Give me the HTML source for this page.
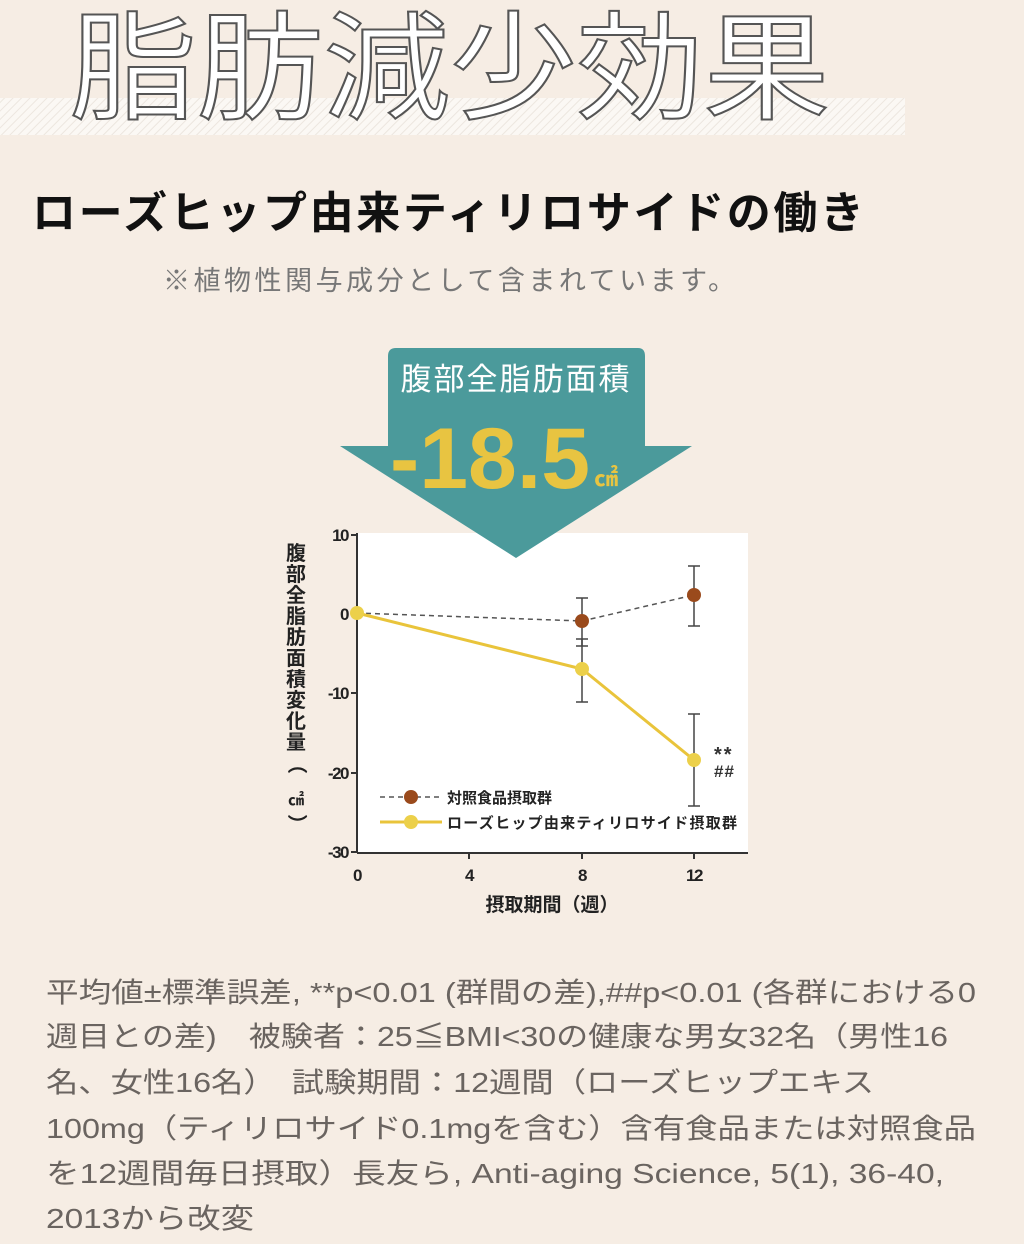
<!DOCTYPE html>
<html><head><meta charset="utf-8"><style>
html,body{margin:0;padding:0;background:#f6ede4;}
body{width:1024px;height:1244px;overflow:hidden;position:relative;}
svg{position:absolute;left:0;top:0;}
</style></head><body>
<svg width="1024" height="1244" xmlns="http://www.w3.org/2000/svg">
<defs>
<pattern id="hatch" width="6" height="6" patternUnits="userSpaceOnUse" patternTransform="rotate(45)">
<rect width="6" height="6" fill="#fbf8f4"/><line x1="0" y1="0" x2="0" y2="6" stroke="#ece6df" stroke-width="2"/>
</pattern>
</defs>
<rect x="0" y="0" width="1024" height="1244" fill="#f6ede4"/>
<rect x="0" y="98" width="905" height="37" fill="url(#hatch)"/>
<text x="70" y="110" font-family="'Noto Sans CJK JP',sans-serif" font-size="118" fill="#ffffff" stroke="#555" stroke-width="2" textLength="760" lengthAdjust="spacingAndGlyphs">脂肪減少効果</text>
<text x="32" y="228" font-family="'Noto Sans CJK JP',sans-serif" font-weight="bold" font-size="44" fill="#111" textLength="832" lengthAdjust="spacing">ローズヒップ由来ティリロサイドの働き</text>
<text x="163" y="290" font-family="'Noto Sans CJK JP',sans-serif" font-size="27" fill="#777" textLength="572" lengthAdjust="spacing">※植物性関与成分として含まれています。</text>

<rect x="357" y="533" width="391" height="319" fill="#ffffff"/>
<path d="M396,348 H638 Q645,348 645,356 V446 H692 L516,558 L340,446 H388 V356 Q388,348 396,348 Z" fill="#4b9a9b"/>
<text x="516" y="390" text-anchor="middle" font-family="'Noto Sans CJK JP',sans-serif" font-size="31" fill="#fff" letter-spacing="2">腹部全脂肪面積</text>
<text x="390" y="488" font-family="'Liberation Sans',sans-serif" font-weight="bold" font-size="86" fill="#e8c441" textLength="200" lengthAdjust="spacingAndGlyphs">-18.5</text>
<text x="594" y="486" font-family="'Noto Sans CJK JP',sans-serif" font-weight="bold" font-size="24" fill="#e8c441">㎠</text>

<g stroke="#333" stroke-width="2" fill="none">
<line x1="357" y1="533" x2="357" y2="853"/>
<line x1="357" y1="853" x2="748" y2="853"/>
<line x1="351" y1="535" x2="357" y2="535"/><line x1="351" y1="614" x2="357" y2="614"/><line x1="351" y1="693" x2="357" y2="693"/><line x1="351" y1="773" x2="357" y2="773"/><line x1="351" y1="852" x2="357" y2="852"/>
<line x1="469" y1="853" x2="469" y2="859"/><line x1="582" y1="853" x2="582" y2="859"/><line x1="694" y1="853" x2="694" y2="859"/>
</g>
<g font-family="'Liberation Sans',sans-serif" font-weight="bold" font-size="17" fill="#222" letter-spacing="-1.5">
<text x="348" y="541" text-anchor="end">10</text>
<text x="348" y="620" text-anchor="end">0</text>
<text x="348" y="699" text-anchor="end">-10</text>
<text x="348" y="779" text-anchor="end">-20</text>
<text x="348" y="858" text-anchor="end">-30</text>
<text x="357" y="881" text-anchor="middle">0</text>
<text x="469" y="881" text-anchor="middle">4</text>
<text x="582" y="881" text-anchor="middle">8</text>
<text x="694" y="881" text-anchor="middle">12</text>
</g>
<text x="552" y="911" text-anchor="middle" font-family="'Noto Sans CJK JP',sans-serif" font-weight="bold" font-size="19" fill="#222">摂取期間（週）</text>
<g font-family="'Noto Sans CJK JP',sans-serif" font-weight="bold" font-size="20" fill="#222" text-anchor="middle">
<text x="296" y="560">腹</text><text x="296" y="581">部</text><text x="296" y="602">全</text><text x="296" y="623">脂</text><text x="296" y="644">肪</text><text x="296" y="665">面</text><text x="296" y="686">積</text><text x="296" y="707">変</text><text x="296" y="728">化</text><text x="296" y="749">量</text>
<text x="296" y="770" transform="rotate(90 296 764)">（</text>
<text x="296" y="805" font-size="16">㎠</text>
<text x="296" y="830" transform="rotate(90 296 824)">）</text>
</g>

<g stroke="#444" stroke-width="1.5">
<line x1="582" y1="598" x2="582" y2="646"/><line x1="576" y1="598" x2="588" y2="598"/><line x1="576" y1="646" x2="588" y2="646"/>
<line x1="694" y1="566" x2="694" y2="626"/><line x1="688" y1="566" x2="700" y2="566"/><line x1="688" y1="626" x2="700" y2="626"/>
<line x1="582" y1="639" x2="582" y2="702"/><line x1="576" y1="639" x2="588" y2="639"/><line x1="576" y1="702" x2="588" y2="702"/>
<line x1="694" y1="714" x2="694" y2="806"/><line x1="688" y1="714" x2="700" y2="714"/><line x1="688" y1="806" x2="700" y2="806"/>
</g>
<polyline points="357,613 582,621 694,595" fill="none" stroke="#555" stroke-width="1.5" stroke-dasharray="5,4"/>
<polyline points="357,613 582,669 694,760" fill="none" stroke="#e9c43b" stroke-width="3"/>
<circle cx="582" cy="621" r="7" fill="#9a4a1c"/><circle cx="694" cy="595" r="7" fill="#9a4a1c"/>
<circle cx="357" cy="613" r="7" fill="#ecd04a"/><circle cx="582" cy="669" r="7" fill="#ecd04a"/><circle cx="694" cy="760" r="7" fill="#ecd04a"/>
<text x="714" y="761" font-family="'Liberation Sans',sans-serif" font-weight="bold" font-size="20" fill="#333" letter-spacing="2">**</text>
<text x="714" y="777" font-family="'Liberation Sans',sans-serif" font-weight="bold" font-size="17" fill="#333" letter-spacing="1">##</text>

<line x1="380" y1="797" x2="442" y2="797" stroke="#555" stroke-width="1.5" stroke-dasharray="5,4"/>
<circle cx="411" cy="797" r="7" fill="#9a4a1c"/>
<text x="447" y="803" font-family="'Noto Sans CJK JP',sans-serif" font-weight="bold" font-size="15" fill="#222">対照食品摂取群</text>
<line x1="380" y1="822" x2="442" y2="822" stroke="#e9c43b" stroke-width="3"/>
<circle cx="411" cy="822" r="7" fill="#ecd04a"/>
<text x="447" y="828" font-family="'Noto Sans CJK JP',sans-serif" font-weight="bold" font-size="15" fill="#222" textLength="290" lengthAdjust="spacing">ローズヒップ由来ティリロサイド摂取群</text>

<g font-family="'Liberation Sans','Noto Sans CJK JP',sans-serif" font-size="28" fill="#6a6460">
<text x="46" y="1002" textLength="930" lengthAdjust="spacingAndGlyphs">平均値±標準誤差, **p&lt;0.01 (群間の差),##p&lt;0.01 (各群における0</text>
<text x="46" y="1046" textLength="902" lengthAdjust="spacingAndGlyphs">週目との差)　被験者：25≦BMI&lt;30の健康な男女32名（男性16</text>
<text x="46" y="1092" textLength="828" lengthAdjust="spacingAndGlyphs">名、女性16名）　試験期間：12週間（ローズヒップエキス</text>
<text x="46" y="1138" textLength="930" lengthAdjust="spacingAndGlyphs">100mg（ティリロサイド0.1mgを含む）含有食品または対照食品</text>
<text x="46" y="1183" textLength="898" lengthAdjust="spacingAndGlyphs">を12週間毎日摂取）長友ら, Anti-aging Science, 5(1), 36-40,</text>
<text x="46" y="1228" textLength="208" lengthAdjust="spacingAndGlyphs">2013から改変</text>
</g>
</svg>
</body></html>
